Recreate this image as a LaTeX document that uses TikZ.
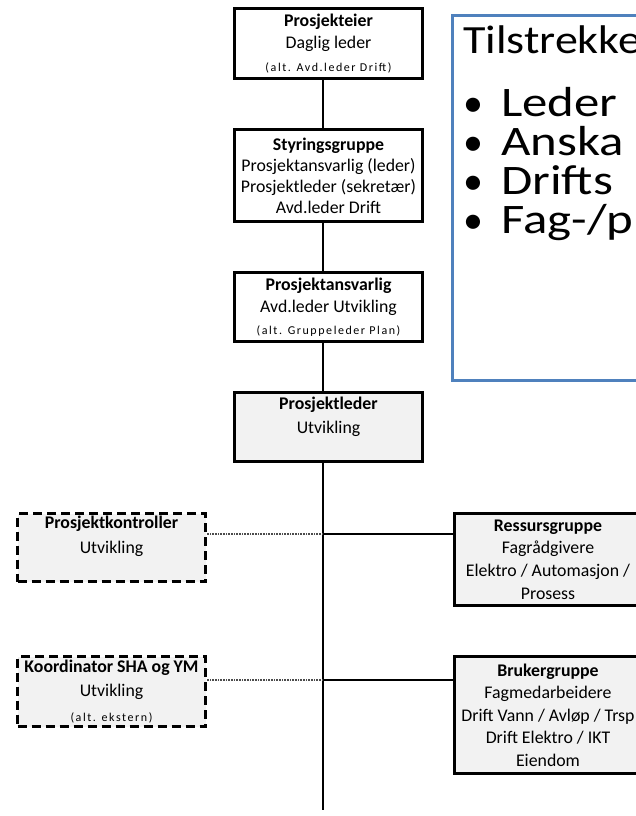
\documentclass[tikz,border=0pt]{standalone}
\usepackage{fontspec}
\setmainfont{Carlito}
\newfontfamily\spacedfont[LetterSpace=13]{Carlito}
\definecolor{boxgray}{RGB}{242,242,242}
\definecolor{infoblue}{RGB}{79,129,189}
\newcommand{\wide}[1]{\scalebox{1.15}[1]{#1}}
\newcommand{\wider}[1]{\scalebox{1.21}[1]{#1}}
\begin{document}
\begin{tikzpicture}[x=1pt,y=-1pt,
  orgbox/.style={draw=black, line width=3pt, inner sep=0pt, align=center,
    font=\fontsize{17.8}{22.5}\selectfont, minimum width=188pt, fill=white},
  graybox/.style={orgbox, fill=boxgray},
  dashbox/.style={graybox, dash pattern=on 9pt off 5pt},
  spine/.style={line width=2.5pt},
  link/.style={line width=2pt},
  dotlink/.style={line width=1.2pt, black!70, dash pattern=on 1pt off 0.6pt},
  infobox/.style={draw=infoblue, line width=3pt, anchor=north west, inner sep=0pt,
    minimum width=300pt, minimum height=364pt},
  infohead/.style={font=\fontsize{40}{40}\selectfont, anchor=base west, inner sep=0pt},
  infotext/.style={font=\fontsize{42}{42}\selectfont, anchor=base west, inner sep=0pt},
  infobullet/.style={font=\fontsize{40}{40}\selectfont, anchor=base, inner sep=0pt}]
\useasboundingbox (0,0) rectangle (636,816);
\clip (0,0) rectangle (636,816);

% main column
\node[orgbox, minimum height=70pt] (pe) at (328.5,43.5)
  {\textbf{Prosjekteier}\\Daglig leder\\{\fontsize{12}{22.5}\selectfont\spacedfont (alt. Avd.leder Drift)}};
\node[orgbox, minimum height=92pt, font=\fontsize{17.8}{21}\selectfont] (sg) at (328.5,175.5)
  {\textbf{Styringsgruppe}\\Prosjektansvarlig (leder)\\Prosjektleder (sekretær)\\Avd.leder Drift};
\node[orgbox, minimum height=69pt, font=\fontsize{17.8}{22}\selectfont] (pa) at (328.5,307)
  {\textbf{Prosjektansvarlig}\\Avd.leder Utvikling\\{\fontsize{12}{22}\selectfont\spacedfont (alt. Gruppeleder Plan)}};
\node[graybox, minimum height=69pt, font=\fontsize{17.8}{24}\selectfont] (pl) at (328.5,427)
  {\textbf{Prosjektleder}\\Utvikling\\\phantom{X}};

% left dashed boxes
\node[dashbox, minimum height=68pt, font=\fontsize{17.8}{25}\selectfont] (pk) at (111.5,547.5)
  {\textbf{Prosjektkontroller}\\Utvikling\\\phantom{X}};
\node[dashbox, minimum height=70pt, font=\fontsize{17.8}{24.5}\selectfont] (ko) at (111.5,691.5)
  {\textbf{Koordinator SHA og YM}\\Utvikling\\{\fontsize{12}{24.5}\selectfont\spacedfont (alt. ekstern)}};

% right boxes
\node[graybox, minimum width=187pt, minimum height=92pt, font=\fontsize{17.8}{22.7}\selectfont] (rg) at (548,559.5)
  {\textbf{Ressursgruppe}\\Fagrådgivere\\Elektro / Automasjon /\\Prosess};
\node[graybox, minimum width=187pt, minimum height=117pt, font=\fontsize{17.8}{22.5}\selectfont] (bg) at (548,715)
  {\textbf{Brukergruppe}\\Fagmedarbeidere\\Drift Vann / Avløp / Trsp\\Drift Elektro / IKT\\Eiendom};

% connectors
\coordinate (sp) at (323,0);
\coordinate (bot) at (323,810);
\coordinate (j1) at (323,534);
\coordinate (j2) at (323,680);
\draw[spine] (pe.south -| sp) -- (sg.north -| sp);
\draw[spine] (sg.south -| sp) -- (pa.north -| sp);
\draw[spine] (pa.south -| sp) -- (pl.north -| sp);
\draw[spine] (pl.south -| sp) -- (bot);
\draw[link] (j1) -- (j1 -| rg.west);
\draw[link] (j2) -- (j2 -| bg.west);
\draw[dotlink] (j1) -- (j1 -| pk.east);
\draw[dotlink] (j2) -- (j2 -| ko.east);

% info box
\node[infobox] (info) at (450.5,14.5) {};
\node[infohead] (i0) at (463,54) {\wide{Tilstrekke}};
\node[infobullet] (u1) at (473,116) {•};
\node[infotext] (i1) at (501,116) {\wider{Leder}};
\node[infobullet] (u2) at (473,155) {•};
\node[infotext] (i2) at (501,155) {\wider{Anska}};
\node[infobullet] (u3) at (473,194) {•};
\node[infotext] (i3) at (501,194) {\wider{Drifts}};
\node[infobullet] (u4) at (473,233) {•};
\node[infotext] (i4) at (501,233) {\wider{Fag-/p}};
\end{tikzpicture}
\end{document}
